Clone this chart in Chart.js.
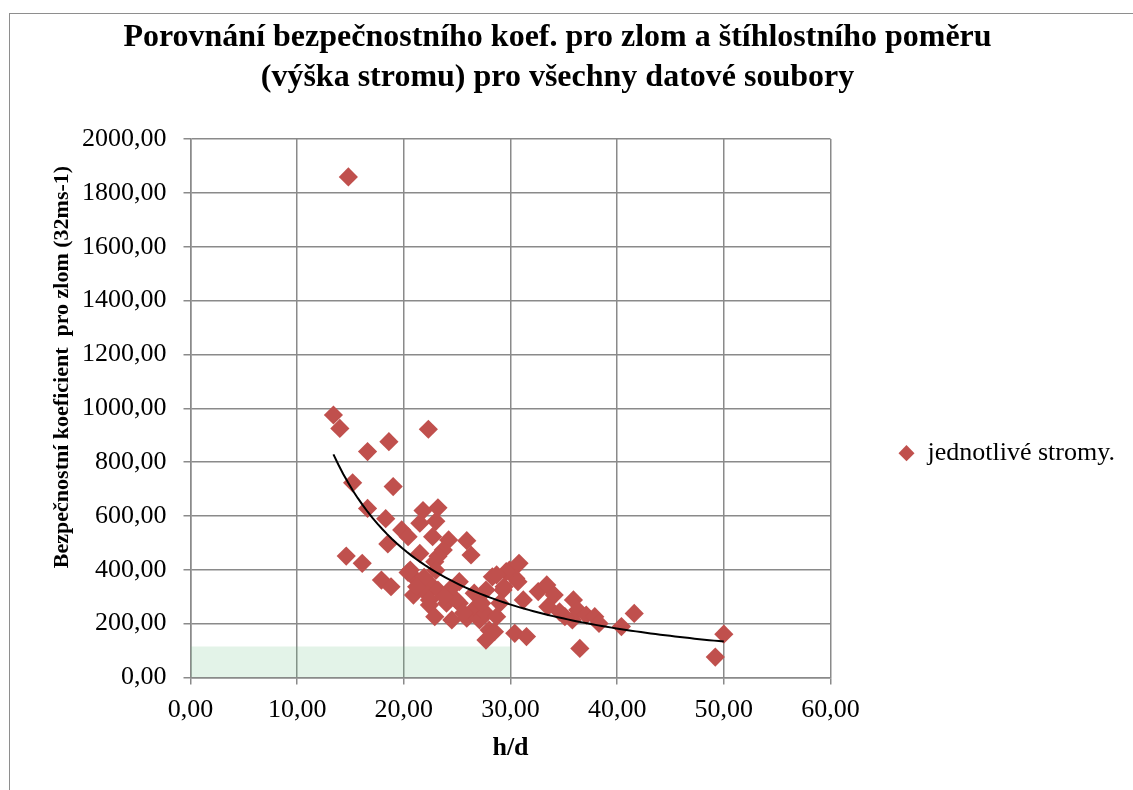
<!DOCTYPE html>
<html>
<head>
<meta charset="utf-8">
<script src="https://cdn.jsdelivr.net/npm/chart.js@4.4.1/dist/chart.umd.min.js"></script>
<style>
    html, body { margin: 0; padding: 0; background: #fff; overflow: hidden; }
    #ramecek { position: absolute; left: 9px; top: 13px; width: 1200px; height: 900px; border: 1px solid #8e8e8e; }
    #obal { position: absolute; left: 0; top: 0; width: 1133px; height: 790px; }
</style>
</head>
<body>
<div id="ramecek"></div>
<div id="obal"><canvas id="graf" width="1133" height="790"></canvas></div>
<script>
// stihlostni pomer h/d jednotlivych stromu
var hdHodnoty = [
    14.8, 13.4, 14.0, 22.3, 18.6, 16.6, 15.2, 19.0, 16.6, 21.8,
    23.2, 18.3, 21.5, 23.0, 19.8, 20.4, 18.5, 22.7, 24.2, 25.9,
    23.7, 21.5, 23.2, 14.6, 16.1, 26.3, 22.9, 20.6, 17.9, 18.8,
    30.8, 28.3, 29.9, 30.5, 21.2, 22.4, 25.2, 20.9, 22.1, 23.2,
    26.6, 27.7, 29.3, 31.2, 22.4, 24.0, 25.2, 26.5, 22.9, 24.5,
    25.9, 27.1, 28.0, 28.5, 27.7, 30.4, 31.5, 29.6, 28.7, 30.7,
    29.4, 32.6, 33.4, 34.1, 33.5, 34.6, 35.9, 36.3, 37.1, 37.9,
    35.8, 35.1, 38.3, 40.4, 41.6, 36.5, 50.0, 49.2, 21.9, 21.2,
    27.7, 28.7, 22.4, 24.9, 27.3, 29.0, 23.0, 24.4, 23.8, 25.6,
    20.4
];
// bezpecnostni koeficient pro zlom (32 ms-1)
var koefHodnoty = [
    1859, 975, 925, 922, 876, 839, 723, 709, 628, 620,
    630, 590, 573, 580, 548, 523, 496, 523, 511, 508,
    474, 461, 450, 451, 424, 455, 430, 399, 362, 337,
    424, 374, 399, 368, 362, 350, 356, 306, 313, 325,
    313, 325, 325, 288, 269, 276, 276, 251, 226, 214,
    220, 214, 176, 170, 139, 164, 152, 393, 381, 356,
    337, 319, 344, 306, 263, 244, 288, 251, 232, 226,
    214, 226, 201, 189, 238, 108, 161, 76, 372, 337,
    238, 226, 288, 288, 276, 276, 398, 330, 300, 240,
    390
];
// zelene pasmo u osy x
var pasmoX = [0, 30];
var pasmoY = [115, 115];

var osaXRozsah = [0, 60, 10];
var osaYRozsah = [0, 2000, 200];

var pismo = 'Liberation Serif';
var seda = '#8a8a8a';

var body = hdHodnoty.map(function (x, i) {
    return {x: x, y: koefHodnoty[i]};
});

// mocninny trend y = a * x^b (jako v Excelu)
var n = body.length, sx = 0, sy = 0, sxx = 0, sxy = 0;
body.forEach(function (b) {
    var lx = Math.log(b.x), ly = Math.log(b.y);
    sx += lx; sy += ly; sxx += lx * lx; sxy += lx * ly;
});
var trendB = (n * sxy - sx * sy) / (n * sxx - sx * sx);
var trendA = Math.exp((sy - trendB * sx) / n);
var minX = Math.min.apply(null, hdHodnoty);
var maxX = Math.max.apply(null, hdHodnoty);
var trend = [];
for (var k = 0; k <= 80; k++) {
    var tx = minX + (maxX - minX) * k / 80;
    trend.push({x: tx, y: trendA * Math.pow(tx, trendB)});
}

var pasmo = pasmoX.map(function (x, i) {
    return {x: x, y: pasmoY[i]};
});

function cislo(v) {
    return Number(v).toFixed(2).replace('.', ',');
}

// legenda je v originale posunuta doprava
var posunLegendy = {
    id: 'posunLegendy',
    afterLayout: function (chart) {
        chart.legend.left += 58;
        chart.legend.right += 58;
    }
};

var ctx = document.getElementById('graf').getContext('2d');
var graf = new Chart(ctx, {
    type: 'scatter',
    data: {
        datasets: [{
                label: 'jednotlivé stromy.',
                data: body,
                order: 1,
                pointStyle: 'rectRot',
                pointRadius: 9.6,
                pointHoverRadius: 9.6,
                backgroundColor: '#C0504D',
                borderColor: '#C0504D',
                borderWidth: 0
            }, {
                label: 'trend',
                data: trend,
                order: 0,
                showLine: true,
                pointRadius: 0,
                borderColor: '#000000',
                borderWidth: 2,
                fill: false
            }, {
                label: 'pasmo',
                data: pasmo,
                order: 2,
                showLine: true,
                pointRadius: 0,
                borderWidth: 0,
                borderColor: 'rgba(0,0,0,0)',
                backgroundColor: 'rgba(100,190,125,0.18)',
                fill: 'origin'
            }]
    },
    options: {
        responsive: false,
        animation: false,
        layout: {
            padding: {left: 48, right: 66, top: 0, bottom: 0}
        },
        plugins: {
            title: {
                display: true,
                text: ['Porovnání bezpečnostního koef. pro zlom a štíhlostního poměru',
                    '(výška stromu) pro všechny datové soubory'],
                color: '#000000',
                font: {family: pismo, size: 32, weight: 'bold', lineHeight: 1.25},
                padding: {top: 18, bottom: 41}
            },
            legend: {
                position: 'right',
                labels: {
                    usePointStyle: true,
                    pointStyleWidth: 16,
                    boxHeight: 11.5,
                    padding: 10,
                    color: '#000000',
                    font: {family: pismo, size: 26},
                    filter: function (item) {
                        return item.datasetIndex === 0;
                    }
                },
                title: {display: true, text: '', padding: {top: 102, bottom: 0}}
            },
            tooltip: {enabled: false}
        },
        scales: {
            x: {
                type: 'linear',
                min: osaXRozsah[0],
                max: osaXRozsah[1],
                ticks: {
                    stepSize: osaXRozsah[2],
                    padding: 10,
                    color: '#000000',
                    font: {family: pismo, size: 26},
                    callback: function (v) { return cislo(v); }
                },
                grid: {color: seda, lineWidth: 1.5, tickLength: 7, tickColor: seda},
                border: {color: seda, width: 1.5},
                title: {
                    display: true,
                    text: 'h/d',
                    color: '#000000',
                    font: {family: pismo, size: 26, weight: 'bold'},
                    padding: {top: 0, bottom: 26}
                },
                afterFit: function (scale) { scale.height = 112.5; }
            },
            y: {
                type: 'linear',
                min: osaYRozsah[0],
                max: osaYRozsah[1],
                ticks: {
                    stepSize: osaYRozsah[2],
                    padding: 17,
                    color: '#000000',
                    font: {family: pismo, size: 26},
                    callback: function (v) { return cislo(v); }
                },
                grid: {color: seda, lineWidth: 1.5, tickLength: 7, tickColor: seda},
                border: {color: seda, width: 1.5},
                title: {
                    display: true,
                    // mezery vlevo posouvaji popisek nahoru jako v originale
                    text: '\u00a0'.repeat(15) + 'Bezpečnostní koeficient  pro zlom (32ms-1)',
                    color: '#000000',
                    font: {family: pismo, size: 22, weight: 'bold'},
                    padding: {top: 1, bottom: 0}
                },
                afterFit: function (scale) { scale.width = 142.5; }
            }
        }
    },
    plugins: [posunLegendy]
});
</script>
</body>
</html>
